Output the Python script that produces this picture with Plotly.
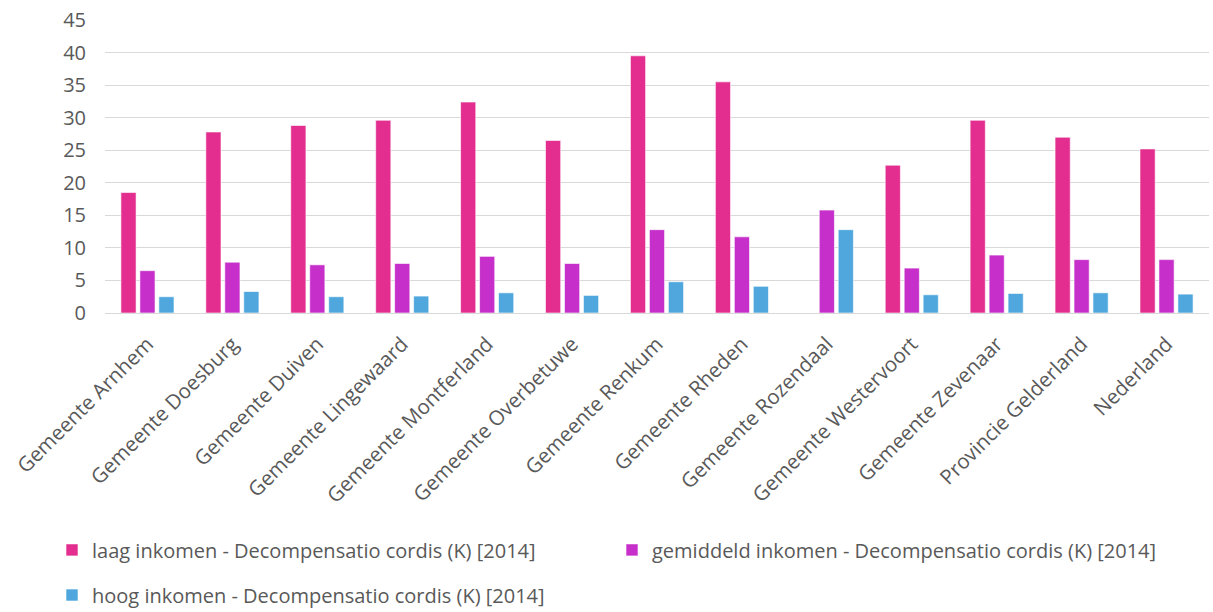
import plotly.graph_objects as go

categories = ["Gemeente Arnhem", "Gemeente Doesburg", "Gemeente Duiven", "Gemeente Lingewaard",
              "Gemeente Montferland", "Gemeente Overbetuwe", "Gemeente Renkum", "Gemeente Rheden",
              "Gemeente Rozendaal", "Gemeente Westervoort", "Gemeente Zevenaar",
              "Provincie Gelderland", "Nederland"]
laag = [18.5, 27.8, 28.8, 29.6, 32.4, 26.5, 39.5, 35.5, None, 22.7, 29.6, 27.0, 25.2]
gemiddeld = [6.5, 7.8, 7.4, 7.6, 8.7, 7.6, 12.8, 11.7, 15.8, 6.9, 8.9, 8.2, 8.2]
hoog = [2.5, 3.3, 2.5, 2.6, 3.1, 2.7, 4.8, 4.1, 12.8, 2.8, 3.0, 3.1, 2.9]

series_names = ["laag inkomen - Decompensatio cordis (K) [2014]",
                "gemiddeld inkomen - Decompensatio cordis (K) [2014]",
                "hoog inkomen - Decompensatio cordis (K) [2014]"]
colors = ["#E32D8F", "#C62FC9", "#4FA7DD"]
y_ticks = [0, 5, 10, 15, 20, 25, 30, 35, 40, 45]

FONT = "Open Sans"
GREY = "#595959"

fig = go.Figure()
for name, vals, col, leg in zip(series_names, [laag, gemiddeld, hoog], colors,
                                ["legend", "legend", "legend2"]):
    fig.add_trace(go.Bar(x=categories, y=vals, name=name, legend=leg,
                         marker=dict(color=col, line=dict(color="rgba(255,255,255,0.6)", width=1))))

fig.update_layout(
    width=1213, height=612,
    margin=dict(l=105, r=4, t=20, b=299, autoexpand=False),
    paper_bgcolor="white", plot_bgcolor="white",
    barmode="group", bargap=0.33, bargroupgap=0.2,
    font=dict(family=FONT, size=20, color=GREY),
    xaxis=dict(tickangle=-45, tickfont=dict(size=20.5, color=GREY), showgrid=False,
               showline=True, linecolor="#D9D9D9", linewidth=1, ticks="",
               automargin=False, ticklabelstandoff=10),
    yaxis=dict(range=[0, 45], tickvals=y_ticks, tickfont=dict(size=20, color=GREY),
               showgrid=True, gridcolor="#D9D9D9", gridwidth=1, zeroline=False,
               ticks="", ticklen=0, showline=False, automargin=False,
               ticklabelstandoff=18),
    legend=dict(orientation="h", x=-0.048, y=-0.742, xanchor="left", yanchor="top",
                entrywidth=515, entrywidthmode="pixels", itemwidth=30,
                font=dict(size=20, color=GREY), bgcolor="rgba(0,0,0,0)"),
    legend2=dict(orientation="h", x=-0.048, y=-0.896, xanchor="left", yanchor="top",
                 itemwidth=30, font=dict(size=20, color=GREY), bgcolor="rgba(0,0,0,0)"),
)

fig.write_html("out.html")
